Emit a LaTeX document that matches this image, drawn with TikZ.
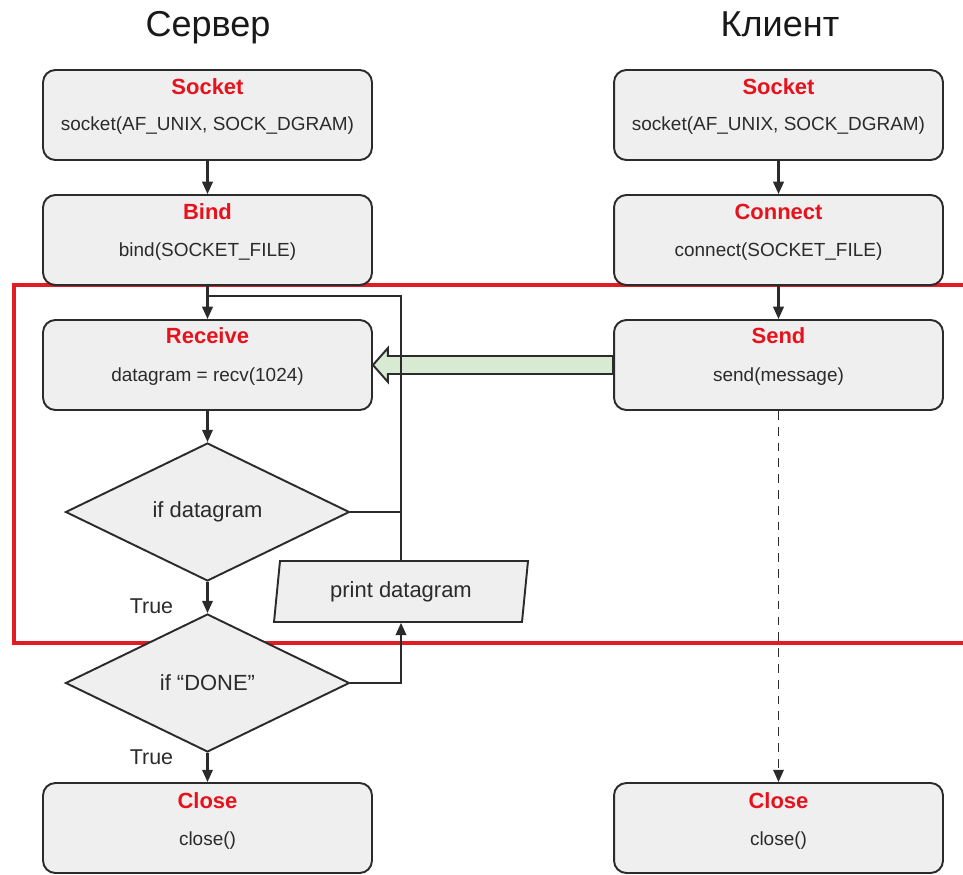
\documentclass[tikz,border=0pt]{standalone}
\usepackage{fontspec}
\setmainfont{Liberation Sans}
\usetikzlibrary{shapes.geometric,arrows.meta,calc}
\definecolor{boxgray}{HTML}{EFEFEF}
\definecolor{linegray}{HTML}{2B2B2B}
\definecolor{titlered}{HTML}{E6121C}
\definecolor{framered}{HTML}{E31B23}
\definecolor{sendgreen}{HTML}{D9EAD3}
\tikzset{blk/.style={draw=linegray,line width=1.1pt,fill=boxgray,rounded corners=7pt,minimum width=6.58cm,minimum height=1.8cm,inner sep=0pt}}
\tikzset{dec/.style={diamond,draw=linegray,line width=1.1pt,fill=boxgray,aspect=2,minimum width=5.68cm,minimum height=2.76cm,inner sep=0pt,text=linegray,font=\fontsize{12.5}{15}\selectfont}}
\tikzset{iobox/.style={minimum width=4.98cm,minimum height=1.22cm,inner sep=0pt,text=linegray,font=\fontsize{12.5}{15}\selectfont}}
\tikzset{ioline/.style={draw=linegray,line width=1.1pt,fill=boxgray}}
\tikzset{ttl/.style={anchor=base,text=titlered,font=\fontsize{12.5}{15}\selectfont\bfseries}}
\tikzset{txt/.style={anchor=base,text=linegray,font=\fontsize{10.8}{13}\selectfont}}
\tikzset{lbl/.style={anchor=base,text=linegray,font=\fontsize{12.2}{15}\selectfont}}
\tikzset{head/.style={anchor=base,text=black!90,font=\fontsize{20.5}{24}\selectfont}}
\tikzset{flow/.style={-{Triangle[length=7pt,width=6pt]},draw=linegray,line width=1.2pt}}
\tikzset{line/.style={draw=linegray,line width=1.2pt}}
\tikzset{garrow/.style={draw=linegray,line width=1.1pt,fill=sendgreen}}

\begin{document}
\begin{tikzpicture}[x=0.02cm,y=-0.02cm]
            \clip (0,0) rectangle (963,875);
            % the loop area
            \draw[framered,line width=2.1pt] (14,285) rectangle (990,643);
            % column titles
            \node[head] (srv) at (208,37) {Сервер};
            \node[head] (cli) at (780,37) {Клиент};
            % server boxes
            \node[blk] (ssock) at (207.5,115) {};
            \node[ttl] (ssock-t) at (207.5,94) {Socket};
            \node[txt] (ssock-b) at (207.5,131) {socket(AF\_UNIX, SOCK\_DGRAM)};
            \node[blk] (sbind) at (207.5,240) {};
            \node[ttl] (sbind-t) at (207.5,219) {Bind};
            \node[txt] (sbind-b) at (207.5,256) {bind(SOCKET\_FILE)};
            \node[blk] (srecv) at (207.5,365) {};
            \node[ttl] (srecv-t) at (207.5,343) {Receive};
            \node[txt] (srecv-b) at (207.5,381) {datagram = recv(1024)};
            \node[dec] (d1) at (207.5,512) {if datagram};
            \node[dec] (d2) at (207.5,683) {if “DONE”};
            % print datagram (parallelogram)
            \fill[ioline] (274,622) -- (280,561) -- (528,561) -- (522,622) -- cycle;
            \node[iobox] (prt) at (401,592) {print datagram};
            \node[blk] (sclose) at (207.5,828) {};
            \node[ttl] (sclose-t) at (207.5,808) {Close};
            \node[txt] (sclose-b) at (207.5,845) {close()};
            % client boxes
            \node[blk] (csock) at (778.5,115) {};
            \node[ttl] (csock-t) at (778.5,94) {Socket};
            \node[txt] (csock-b) at (778.5,131) {socket(AF\_UNIX, SOCK\_DGRAM)};
            \node[blk] (cconn) at (778.5,240) {};
            \node[ttl] (cconn-t) at (778.5,219) {Connect};
            \node[txt] (cconn-b) at (778.5,256) {connect(SOCKET\_FILE)};
            \node[blk] (csend) at (778.5,365) {};
            \node[ttl] (csend-t) at (778.5,343) {Send};
            \node[txt] (csend-b) at (778.5,381) {send(message)};
            \node[blk] (cclose) at (778.5,828) {};
            \node[ttl] (cclose-t) at (778.5,808) {Close};
            \node[txt] (cclose-b) at (778.5,845) {close()};
            % message from client to server
            \draw[garrow] ($(csend.west)+(0,-9)$) -- ($(srecv.east)+(15,-9)$) -- ++(0,-8) -- (srecv.east) -- ($(srecv.east)+(15,17)$) -- ++(0,-8) -- ($(csend.west)+(0,9)$) -- cycle;
            % server flow
            \coordinate (loop) at (402,296);
            \draw[flow] (ssock) -- (sbind);
            \draw[flow] (sbind) -- (srecv);
            \draw[flow] (srecv) -- (d1);
            \draw[flow] (d1) -- (d2);
            \draw[flow] (d2) -- (sclose);
            \draw[flow] (d2.east) -| (prt.south);
            \draw[line] (prt.north) |- (srecv.north |- loop);
            \draw[line] (d1.east) -- (d1.east -| prt.north);
            \node[lbl] (t1) at (151.5,613) {True};
            \node[lbl] (t2) at (151.5,764) {True};
            % client flow
            \draw[flow] (csock) -- (cconn);
            \draw[flow] (cconn) -- (csend);
            \draw[flow,line width=1pt,dash pattern=on 5pt off 4pt] (csend) -- (cclose);
\end{tikzpicture}
\end{document}
